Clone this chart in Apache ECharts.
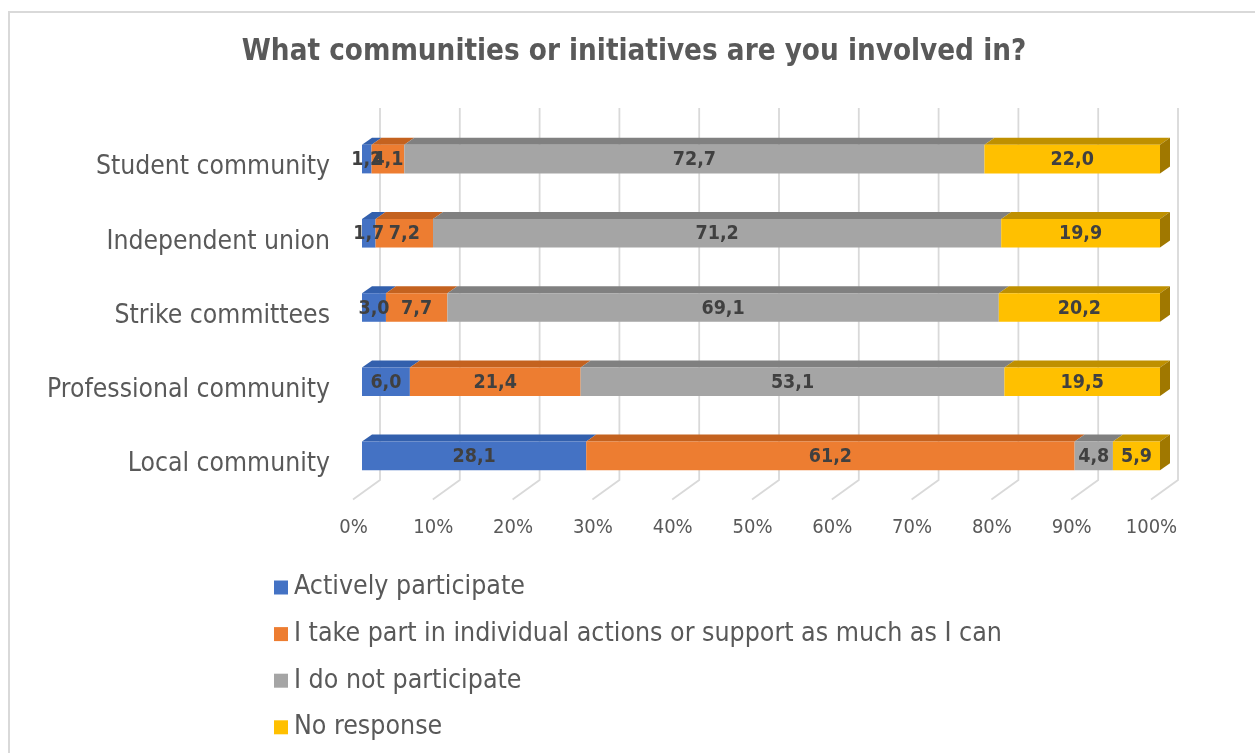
<!DOCTYPE html>
<html>
<head>
<meta charset="utf-8">
<script src="https://cdn.jsdelivr.net/npm/echarts@6/dist/echarts.min.js"></script>
<style>
  html, body { margin: 0; padding: 0; background: #ffffff; }
  #chart { width: 1255px; height: 753px; }
</style>
</head>
<body>
<div id="chart"></div>
<script>
// Survey answers, percentage of respondents per community type
const categories = ['Student community', 'Independent union', 'Strike committees', 'Professional community', 'Local community'];
const seriesNames = [
  'Actively participate',
  'I take part in individual actions or support as much as I can',
  'I do not participate',
  'No response'
];
const activelyParticipate = [1.2, 1.7, 3.0, 6.0, 28.1];
const takePart = [4.1, 7.2, 7.7, 21.4, 61.2];
const doNotParticipate = [72.7, 71.2, 69.1, 53.1, 4.8];
const noResponse = [22.0, 19.9, 20.2, 19.5, 5.9];
const xTicks = [0, 10, 20, 30, 40, 50, 60, 70, 80, 90, 100];

const FONT = "'DejaVu Sans Condensed', 'DejaVu Sans', sans-serif";
const DX = 10;   // depth offset of the bar top face (px, to the right)
const DY = 7;    // depth offset of the bar top face (px, upward)

const frontColors = ['#4472C4', '#ED7D31', '#A5A5A5', '#FFC000'];
const topColors = ['#3360AD', '#C4621F', '#808080', '#BF9000'];
const sideColor = '#A07800';

const fmt = v => v.toFixed(1).replace('.', ',');

// stack the four answer groups into [start, end, row, value] items
const groups = [activelyParticipate, takePart, doNotParticipate, noResponse];
const stacked = [];
const running = categories.map(() => 0);
groups.forEach((vals, s) => {
  stacked.push(vals.map((v, row) => {
    const item = [running[row], running[row] + v, row, v];
    running[row] += v;
    return item;
  }));
});

function barRenderer(s) {
  const last = s === groups.length - 1;
  return function (params, api) {
    const start = api.value(0), end = api.value(1), row = api.value(2);
    const p0 = api.coord([start, row]);
    const p1 = api.coord([end, row]);
    const band = api.size([0, 1])[1];
    const h = band * 0.385;
    const yTop = p0[1] - h / 2, yBot = p0[1] + h / 2;
    const x0 = p0[0], x1 = p1[0];
    const children = [
      { type: 'polygon', shape: { points: [[x0, yTop], [x0 + DX, yTop - DY], [x1 + DX, yTop - DY], [x1, yTop]] },
        style: { fill: topColors[s] } },
      { type: 'rect', shape: { x: x0, y: yTop, width: x1 - x0, height: h },
        style: { fill: frontColors[s] } }
    ];
    if (last) {
      children.push({ type: 'polygon',
        shape: { points: [[x1, yTop], [x1 + DX, yTop - DY], [x1 + DX, yBot - DY], [x1, yBot]] },
        style: { fill: sideColor } });
    }
    children.push({ type: 'text', z2: 100,
      style: { text: fmt(api.value(3)), x: (x0 + x1) / 2, y: p0[1] + 1, align: 'center', verticalAlign: 'middle',
        fontFamily: FONT, fontSize: 19.5, fontWeight: 'bold', fill: '#404040' } });
    return { type: 'group', children };
  };
}

// back wall gridlines with the floor edge running towards the viewer
function gridRenderer(params, api) {
  const cs = params.coordSys;
  const x = api.coord([api.value(0), 0])[0];
  const bottom = cs.y + cs.height;
  return {
    type: 'polyline',
    shape: { points: [[x + 18, cs.y - 14], [x + 18, bottom - 13], [x - 9, bottom + 6.5]] },
    style: { stroke: '#D9D9D9', lineWidth: 1.8, fill: null }
  };
}

const series = [{
  type: 'custom',
  z: 1,
  silent: true,
  renderItem: gridRenderer,
  encode: { x: 0 },
  data: xTicks.map(v => [v])
}];
groups.forEach((vals, s) => {
  series.push({
    type: 'custom',
    name: seriesNames[s],
    z: 2,
    itemStyle: { color: frontColors[s] },
    renderItem: barRenderer(s),
    encode: { x: [0, 1], y: 2 },
    data: stacked[s]
  });
});

const chart = echarts.init(document.getElementById('chart'));
chart.setOption({
  animation: false,
  backgroundColor: '#ffffff',
  title: {
    text: 'What communities or initiatives are you involved in?',
    left: 629,
    textAlign: 'center',
    top: 33,
    textStyle: { fontFamily: FONT, fontSize: 29.3, fontWeight: 'bold', color: '#595959' }
  },
  graphic: [{
    type: 'rect', silent: true, z: 0,
    shape: { x: 9, y: 12, width: 1300, height: 800 },
    style: { fill: null, stroke: '#D9D9D9', lineWidth: 2 }
  }],
  legend: {
    data: seriesNames,
    orient: 'vertical',
    left: 274,
    top: 574,
    padding: 0,
    itemWidth: 14,
    itemHeight: 14,
    itemGap: 19.6,
    icon: 'rect',
    textStyle: { fontFamily: FONT, fontSize: 26.5, color: '#595959', padding: [0, 0, 0, 1] }
  },
  grid: { left: 362, right: 95, top: 122, bottom: 260 },
  xAxis: {
    type: 'value',
    min: 0, max: 100, interval: 10,
    axisLine: { show: false },
    axisTick: { show: false },
    splitLine: { show: false },
    axisLabel: {
      formatter: '{value}%', margin: 25, padding: [0, 17, 0, 0],
      fontFamily: FONT, fontSize: 20, color: '#595959'
    }
  },
  yAxis: {
    type: 'category',
    data: categories,
    inverse: true,
    axisLine: { show: false },
    axisTick: { show: false },
    splitLine: { show: false },
    axisLabel: {
      margin: 32, verticalAlign: 'top', lineHeight: 17,
      fontFamily: FONT, fontSize: 26.3, color: '#595959'
    }
  },
  series
});
</script>
</body>
</html>
